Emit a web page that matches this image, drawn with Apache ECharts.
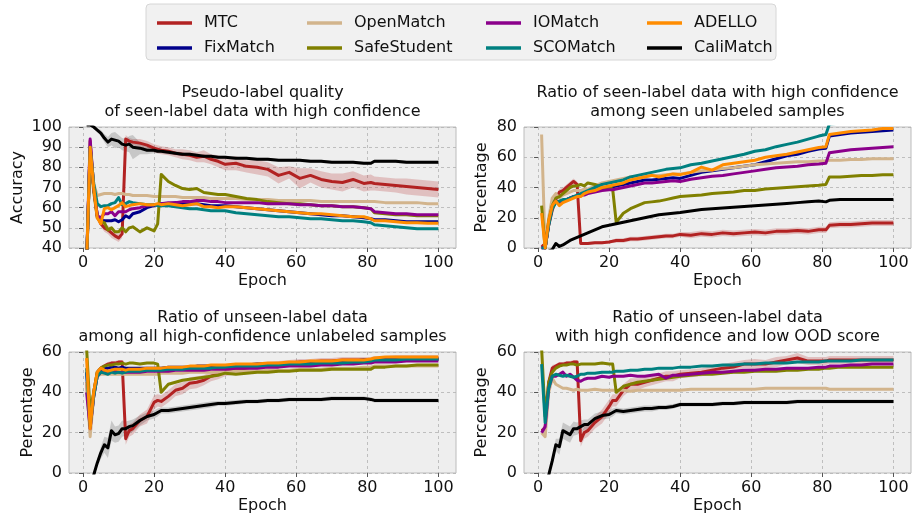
<!DOCTYPE html>
<html>
<head>
<meta charset="utf-8">
<script src="https://cdn.jsdelivr.net/npm/echarts@6/dist/echarts.min.js"></script>
<style>
  html, body { margin: 0; padding: 0; background: #fff; }
  #chart { width: 913px; height: 518px; }
</style>
</head>
<body>
<div id="chart"></div>
<script>
// epochs shared by every curve
var epochs = [1,2,3,4,5,6,7,8,9,10,11,12,13,14,16,18,20,21,22,24,26,28,30,32,34,36,38,40,43,46,49,52,55,58,61,64,67,70,73,76,79,81,82,85,88,91,94,97,100];
var xTicks = [0, 20, 40, 60, 80, 100];

// panel 1: pseudo-label accuracy of seen-label data with high confidence
var accMTC = [30,93,70,56,52,50,49,47.5,46,45,47,94,93,92.5,92,91,89.5,89,88.5,88,87,86.5,86,85,85.5,84,83,81.5,82,80.5,80,79,76,77.5,74.5,76,74,73,72.5,74,72,72.5,72,71.5,71,70.5,70,69.5,69];
var accFixMatch = [32,90,70,56,54,53.5,53.5,53.5,54,53,54,56,55,57,58,60,61,61.5,62,62,62.5,62,62,62,61.5,61,61,61,60.5,60,59.5,59,58.5,58,57.5,57,56.5,56,56,55.5,55,54.5,54,54,53.5,53,53,53,53];
var accOpenMatch = [33,90,72,66,66.5,67,67,67,66.5,67,67,66.5,66.5,66,66,66,65.5,65.5,65.5,65.5,65.5,65,65,65,65,64.5,64.5,64.5,64.5,64,64,64,63.5,63.5,63.5,63.5,63,63,63,63,63,63,63,62.5,62.5,62.5,62.5,62,62];
var accSafeStudent = [32,88,68,55,53,52.5,49,50,48,48,50,48,50,50.5,48,50,48.5,52,76.5,73,71,69.5,69,69.5,67.5,67,66.5,66.5,65.5,64.5,64,63,62.5,62,62,61.5,61,61,60.5,60.5,60,59.5,57.5,57,56.5,56.5,56,56,56];
var accIOMatch = [33,94,70,56,55,57,57,58,56,58,58,58,59,59.5,60,61,61.5,61.5,62,62.5,62.5,63,63,63.5,63.5,63,63,62.5,62.5,62.5,62.5,62,62,62,61.5,61.5,61,61,60.5,60.5,60,59.5,58,57.5,57,57,56.5,56.5,56.5];
var accSCOMatch = [33,90,72,62,60.5,61,61,62,62.5,65,61.5,62,63,62.5,62,61.5,61.5,61,61,61,60.5,60,59.5,59.5,59,58.5,58.5,58.5,57.5,57,56.5,56,55.5,55.5,55,54.5,54.5,54,53.5,53.5,53,52.5,51.5,51,50.5,50,49.5,49.5,49.5];
var accADELLO = [33,90,70,55,52,59.5,60,59,60,61,62.5,60.5,61,61.5,62,61.5,61.5,62,61.5,62,61.5,61,61.5,62,60.5,60.5,60,60.5,60.5,60,59.5,59,58.5,58,57.5,57,57,56.5,56,55.5,55.5,54.5,53.5,53.5,53,52.5,52.5,52.3,52.3];
var accCaliMatch = [101,101,100,98.5,97,94.5,92.5,94,93.5,93,91.5,91,91.5,90,89.5,88.5,88.5,88,88,87.5,87,86.5,86.5,86,85.5,85.5,85,85,84.5,84.5,84,84,83.5,83.5,83.5,83,83,82.5,82.5,82.5,82,82,83,83,83,82.5,82.5,82.5,82.5];
// half-width of the shaded spread
var accMTCSpread = [0,0,0,1,1.5,2,2,2.5,2,2,2,2,1.5,1.5,2,2,2,2,2,2,2,2.5,2.5,2.5,3,2.5,3,3,3.5,3,3.5,3.5,4,3,5,3.5,4,4,4.5,4,4,4,3.5,3.5,3.5,4,4,4,4];
var accCaliMatchSpread = [0,0,0,1,1.5,2,2.5,3,4,3,3,3,4,6,3,2,1.5,1,1,1,1,1,0.8,0.8,0.8,0.8,0.8,0.8,0.8,0.8,0.8,0.8,0.8,0.8,0.8,0.8,0.8,0.8,0.8,0.8,0.8,0.8,0.8,0.8,0.8,0.8,0.8,0.8,0.8];

// panel 2: ratio of seen-label data with high confidence among seen unlabeled samples
var seenMTC = [2,0,15,25,32,37,38,40,42,44,42,3,3,3,3.5,3.5,4,4.5,5,5,6,6,6.5,7,7.5,8,8,9,8.5,9.5,9,10,9.5,10,10.5,10,11,11,11.5,11,12,12,15,15.5,15.5,16,16.5,16.5,16.5];
var seenFixMatch = [0,0,16,27,31,30,31,32,33,34,34,35,36,37,38,39,40,40.5,41,42,43,44,45,45,45.5,46,46.5,46,48,50,51,52,53,54,55,57,59,61,62,64,65.5,66,74,75,76,76.5,77,77.5,78];
var seenOpenMatch = [75,0,20,33,36,33,35,36,37,38,38,38,39,39,41,43,44,44.5,45,46,47,47.5,47.5,48,48,48.5,49,49,50,51,51.5,52.5,53,54,55,55.5,56,56.5,57,57,57.5,57.5,58,58,58.5,58.5,59,59,59];
var seenSafeStudent = [28,0,18,28,33,34,36,38,40,41,41,42,41,43,42,40,40,39,17,23,26,28,30,30.5,31,32,33,34,34.5,35,36,36.5,37,38,38,39,39.5,40,40.5,41,41.5,42,47,47,47.5,48,48,48.5,48.5];
var seenIOMatch = [0,0,16,27,31,30,31,32,33,34,34,35,35,36,37,38,38.5,38.5,39,40,41,42,43,43,43.5,44,44.5,44,45.5,46.5,47.5,48,49,50,51,52,53,53.5,54,55,55.5,56,63,64,65,65.5,66,66.5,67];
var seenSCOMatch = [0,0,15,26,30,31,32,32,33,34,35,36,37,38,40,42,43,43.5,44,45,47,48,49,50,51,52,52.5,53,55,56,57.5,59,60.5,62,64,65,67,68.5,70,72,74,75,82,82.5,83,83,83.5,84,84];
var seenADELLO = [23,0,18,28,31,28,30,31,32,33,34,34,36,37,38,40,41,41.5,42,43,45,46,47,48,47,48,49,48.5,50,53.5,51.5,55,56,57,58,60,61,62,63.5,65,66.5,67,75,76,77,77.5,78,79,79];
var seenCaliMatch = [-3,-3,-2,-1,3,1,2,3.5,5,6,7,8,9,10,12,14,15,15.5,16,17,18,19,20,21,22,22.5,23,23.5,24.5,25.5,26,26.5,27,27.5,28,28.5,29,29.5,30,30.5,31,30.5,31.5,32,32,32,32,32,32];
var seenMTCSpread = [0,0,1,2,2,2,2,2,2,2,2,1,1,1,1,1,1,1,1.5,1.5,1.5,1.5,1.5,1.5,1.5,1.5,1.5,1.5,2,2,2,2,2,2,2,2,2,2,2,2,2,2,2,2,2,2,2,2,2];

// panel 3: ratio of unseen-label data among all high-confidence unlabeled samples
var unseenMTC = [45,22,40,50,52,53,54,54.5,54.5,55,55,17,21,22,26,28,35,36,35.5,38,41,42,44.5,45,46,48,49,50,51,52,53,53.5,54,54.5,55,55,55.5,55.5,56,56,56,56,56.5,56.5,57,57,57,57,57];
var unseenFixMatch = [50,22,38,49,51,52,52,52.5,52.5,52,52.5,52,52,52,52,52,52,52,52,52.5,52.5,52.5,52.5,53,53,53,53,53,53.5,53.5,54,54,54,54.5,54.5,55,55,55,55.5,55.5,56,56,56.5,56.5,56.5,56.5,56.5,56.5,56.5];
var unseenOpenMatch = [45,18,38,48,49,49,49,49,49,49,49,49,49,49,49,49,49,49,49.5,49.5,49.5,49.5,50,50,50,50,50,50,50.5,50.5,50.5,51,51,51,51.5,51.5,51.5,52,52,52,52.5,52.5,53,53,53,53,53,53,53];
var unseenSafeStudent = [62,30,40,50,52,53,53.5,53.5,54,54,54.5,54,54.5,54.5,54,54.5,54.5,54,40,44,45,46,46.5,47,47.5,48,48.5,49.5,49,49.5,50,50,50.5,50.5,51,51,51,51.5,51.5,51.5,51.5,51.5,52.5,52.5,53,53,53.5,53.5,53.5];
var unseenIOMatch = [40,22,38,48,50,50,50,50.5,50.5,50,50,50,50,50,50,50.5,50.5,50.5,50.5,50.5,51,51,51,51,51,51.5,51.5,51.5,52,52,52,52.5,52.5,53,53,53,53.5,53.5,54,54,54.5,54.5,55,55,55,55.5,55.5,55.5,55.5];
var unseenSCOMatch = [52,23,38,48,50,49.5,49,50,49.5,50,49.5,50,50.5,50.5,50.5,51,51,51,51,51.5,51.5,51.5,52,52,52,52,52.5,52.5,53,53,53,53.5,53.5,54,54,54,54.5,54.5,54.5,55,55,55.5,56,56,56,56.5,56.5,56.5,56.5];
var unseenADELLO = [57,22,40,50,52,51,50.5,51,51.5,51.5,51.5,51,51.5,51.5,51.5,52,52,52,52,52.5,52.5,52.5,53,53,53,53.5,53.5,53.5,54,54,54,54.5,54.5,55,55,55.5,55.5,55.5,56,56,56,56.5,57,57.5,57.5,57.5,57.5,57.5,57.5];
var unseenCaliMatch = [-10,-6,-1,5,10,14,12.5,21,19,19.5,22,22,23,23.5,26,28,29,30,31,31,31.5,32,32.5,33,33.5,34,34.5,34.5,35,35.5,35.5,36,36,36.5,36.5,36.5,36.5,37,37,37,37,36.5,36,36,36,36,36,36,36];
var unseenMTCSpread = [1,2,2,1.5,1,1,1,1,1,1,1,3,3,3,3,3.5,3.5,3,3,3,3,3,3,3,2.5,2.5,2.5,2,2,2,2,1.5,1.5,1.5,1.5,1.5,1.5,1.5,1.5,1.5,1.5,1.5,1.5,1.5,1.5,1.5,1.5,1.5,1.5];
var unseenCaliMatchSpread = [0,0,0,2,3,4,5,5,4,4,4,3.5,3,3,2.5,2,2,2,1.5,1.5,1.5,1.5,1.5,1.5,1.5,1.5,1.2,1.2,1.2,1,1,1,1,1,1,1,1,1,1,1,1,1,1,1,1,1,1,1,1];

// panel 4: ratio of unseen-label data with high confidence and low OOD score
var lowOodMTC = [21,22,45,52,53,54,54,54.5,54.5,55,55,16,20,21,25,28,33,36,36,41,44,44,45,46,47,48,48,49,49.5,50,51,52,52.5,54,54,54,55,56,57,55.5,55.5,55.5,56,56,56,56,56,56,56];
var lowOodOpenMatch = [20,18,40,47,44,43,42,42,41.5,41,41.5,41,41,41,41.5,41,41,41,41,41,40.5,41,41,41,41,41,41,41,41.5,41.5,41.5,41.5,41.5,41.5,41.5,42,42,42,42,42,42,42,41.5,41.5,41.5,41.5,41.5,41.5,41.5];
var lowOodSafeStudent = [62,28,45,50,52,53,53.5,53.5,54,54,53.5,54,54,54,54,54.5,54,54,40,43,44,45,45.5,46,46.5,47,47.5,48,48.5,49,49,49.5,50,50,50.5,50.5,50.5,51,51,51.5,51.5,52,52,52.5,52.5,52.5,52.5,52.5,52.5];
var lowOodIOMatch = [20,23,42,48,48,49,50,48,49,47.5,46,45.5,46.5,47,47,48,47.5,48,48,48,48.5,48,48,48.5,49,47,48.5,48.5,49,49.5,50,50,50.5,51,51,51.5,51.5,52,52,52,52.5,52.5,53,53,53.5,53.5,54,54,54];
var lowOodSCOMatch = [54,25,42,48,49,48.5,48,48.5,48,47.5,48,49,49,49.5,49.5,50,50,50,50.5,50.5,51,51,51.5,51.5,52,52,52,52.5,52.5,53,53,53.5,53.5,54,54,54.5,54.5,54.5,55,55,55,55.5,55.5,55.5,55.5,56,56,56,56];
var lowOodCaliMatch = [-10,-5,-1,6,14,13,21,20,19,22,22,23,24,24,27,28.5,29,30,31,30.5,31,31.5,32,32,32.5,32.5,33,34,34,34,34,34.5,34.5,35,35,35,35,35,35.5,35.5,35.5,35.5,35.5,35.5,35.5,35.5,35.5,35.5,35.5];
var lowOodMTCSpread = [1,2,2,1.5,1,1,1,1,1,1,1,3,3,3,3,3.5,3.5,3,3,3,3,3,2.5,2.5,2.5,2.5,2.5,2,2,2,2,2,2.5,2,2.5,2,2.5,2,2.5,2,2,2,2,2,2,2,2,2,2];
var lowOodCaliMatchSpread = [0,0,0,2,3,4,4,4,4,3.5,3,3,2.5,2.5,2.5,2,2,2,1.5,1.5,1.5,1.5,1.5,1.5,1.2,1.2,1.2,1,1,1,1,1,1,1,1,1,1,1,1,1,1,1,1,1,1,1,1,1,1];

var methods = ['MTC', 'FixMatch', 'OpenMatch', 'SafeStudent', 'IOMatch', 'SCOMatch', 'ADELLO', 'CaliMatch'];
var colors = ['#b22222', '#00008b', '#d2b48c', '#808000', '#8b008b', '#008080', '#ff8c00', '#000000'];
var bandFill = { 0: 'rgba(178,34,34,0.22)', 7: 'rgba(0,0,0,0.16)' };

var panels = [
  {
    title: 'Pseudo-label quality\nof seen-label data with high confidence',
    yName: 'Accuracy', yMin: 40, yMax: 100, yStep: 10, nameGap: 43,
    rect: [69, 127], data: [accMTC, accFixMatch, accOpenMatch, accSafeStudent, accIOMatch, accSCOMatch, accADELLO, accCaliMatch],
    bands: [[accMTC, accMTCSpread, 0], [accCaliMatch, accCaliMatchSpread, 7]]
  },
  {
    title: 'Ratio of seen-label data with high confidence\namong seen unlabeled samples',
    yName: 'Percentage', yMin: 0, yMax: 80, yStep: 20, nameGap: 34,
    rect: [524, 127], data: [seenMTC, seenFixMatch, seenOpenMatch, seenSafeStudent, seenIOMatch, seenSCOMatch, seenADELLO, seenCaliMatch],
    bands: [[seenMTC, seenMTCSpread, 0]]
  },
  {
    title: 'Ratio of unseen-label data\namong all high-confidence unlabeled samples',
    yName: 'Percentage', yMin: 0, yMax: 60, yStep: 20, nameGap: 33,
    rect: [69, 352], data: [unseenMTC, unseenFixMatch, unseenOpenMatch, unseenSafeStudent, unseenIOMatch, unseenSCOMatch, unseenADELLO, unseenCaliMatch],
    bands: [[unseenMTC, unseenMTCSpread, 0], [unseenCaliMatch, unseenCaliMatchSpread, 7]]
  },
  {
    title: 'Ratio of unseen-label data\nwith high confidence and low OOD score',
    yName: 'Percentage', yMin: 0, yMax: 60, yStep: 20, nameGap: 34,
    rect: [524, 352], data: [lowOodMTC, null, lowOodOpenMatch, lowOodSafeStudent, lowOodIOMatch, lowOodSCOMatch, null, lowOodCaliMatch],
    bands: [[lowOodMTC, lowOodMTCSpread, 0], [lowOodCaliMatch, lowOodCaliMatchSpread, 7]]
  }
];

var FONT = 'DejaVu Sans';
var PW = 387, PH = 121;
var grids = [], xAxes = [], yAxes = [], series = [], graphics = [];

graphics.push({
  type: 'rect', z: 0,
  shape: { x: 146, y: 4, width: 630, height: 56, r: 4 },
  style: { fill: '#f1f1f1', stroke: '#d6d6d6', lineWidth: 1 }
});

// shaded spread drawn as one polygon through the axis scales
function addBand(i, mean, spread, m) {
  series.push({
    type: 'custom', xAxisIndex: i, yAxisIndex: i, silent: true, clip: true, z: 1,
    data: [[50, mean[30]]],
    renderItem: function (params, api) {
      var pts = [];
      for (var k = 0; k < epochs.length; k++) pts.push(api.coord([epochs[k], mean[k] + spread[k]]));
      for (var j = epochs.length - 1; j >= 0; j--) pts.push(api.coord([epochs[j], mean[j] - spread[j]]));
      return { type: 'polygon', shape: { points: pts }, style: { fill: bandFill[m], stroke: null } };
    }
  });
}

panels.forEach(function (p, i) {
  grids.push({
    left: p.rect[0], top: p.rect[1], width: PW, height: PH,
    show: true, backgroundColor: '#eeeeee', borderColor: '#bcbcbc', borderWidth: 1
  });
  xAxes.push({
    gridIndex: i, type: 'value', min: -3.95, max: 104.95,
    name: 'Epoch', nameLocation: 'middle', nameGap: 25,
    nameTextStyle: { fontSize: 16, color: '#111', fontFamily: FONT },
    axisLine: { show: false },
    axisTick: { show: true, customValues: xTicks, length: 4, lineStyle: { color: '#555' } },
    axisLabel: { customValues: xTicks, fontSize: 16, color: '#111', fontFamily: FONT, margin: 7 },
    splitLine: { show: true, lineStyle: { color: '#b2b2b2', type: [3, 3], width: 0.8 } }
  });
  yAxes.push({
    gridIndex: i, type: 'value', min: p.yMin, max: p.yMax, interval: p.yStep,
    name: p.yName, nameLocation: 'middle', nameGap: p.nameGap, nameRotate: 90,
    nameTextStyle: { fontSize: 16, color: '#111', fontFamily: FONT },
    axisLine: { show: false },
    axisTick: { show: true, length: 4, lineStyle: { color: '#555' } },
    axisLabel: { fontSize: 16, color: '#111', fontFamily: FONT, margin: 7 },
    splitLine: { show: true, lineStyle: { color: '#b2b2b2', type: [3, 3], width: 0.8 } }
  });
  graphics.push({
    type: 'text', z: 10,
    style: {
      text: p.title, x: p.rect[0] + PW / 2, y: p.rect[1] - 43,
      textAlign: 'center', textVerticalAlign: 'top',
      font: '16px "DejaVu Sans"', lineHeight: 18.5, fill: '#111'
    }
  });
  p.bands.forEach(function (b) { addBand(i, b[0], b[1], b[2]); });
  p.data.forEach(function (arr, m) {
    if (!arr) return;
    series.push({
      type: 'line', name: methods[m], xAxisIndex: i, yAxisIndex: i,
      data: epochs.map(function (e, k) { return [e, arr[k]]; }),
      symbol: 'none', showSymbol: false, clip: true,
      color: colors[m],
      lineStyle: { width: 3, color: colors[m], join: 'round' },
      z: 2 + m
    });
  });
});

var legendCols = [[0, 1], [2, 3], [4, 5], [6, 7]];
var legendLeft = [152, 302, 481, 642];
var legends = legendCols.map(function (col, c) {
  return {
    orient: 'vertical', left: legendLeft[c], top: 9,
    data: col.map(function (m) { return methods[m]; }),
    icon: 'rect', itemWidth: 35, itemHeight: 3.5, itemGap: 7,
    selectedMode: false,
    textStyle: { fontSize: 16, color: '#111', fontFamily: FONT, lineHeight: 18, padding: [0, 0, 0, 7] }
  };
});

var chart = echarts.init(document.getElementById('chart'), null, { renderer: 'canvas' });
chart.setOption({
  animation: false,
  textStyle: { fontFamily: FONT },
  legend: legends,
  grid: grids,
  xAxis: xAxes,
  yAxis: yAxes,
  series: series,
  graphic: graphics
});
</script>
</body>
</html>
